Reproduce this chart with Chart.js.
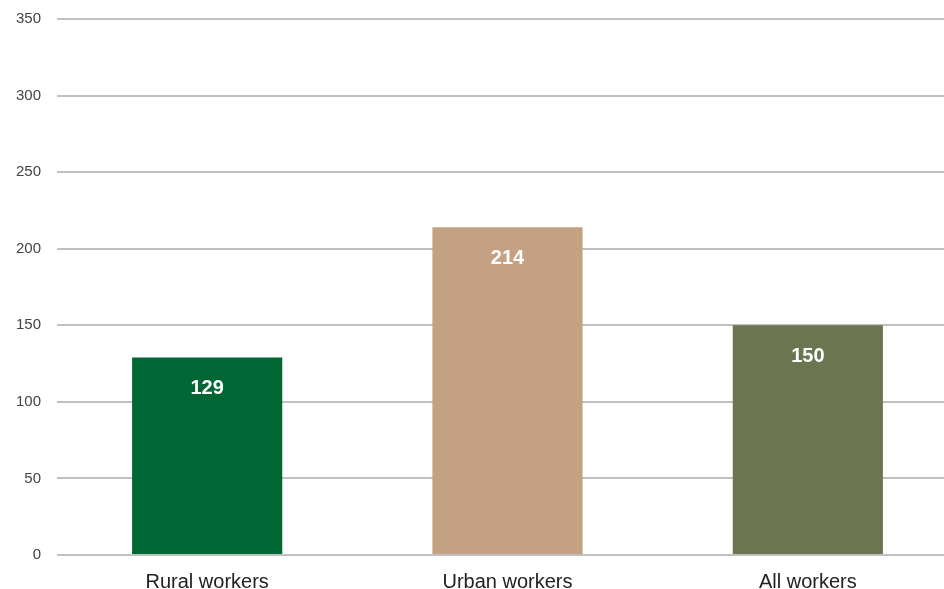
<!DOCTYPE html>
<html>
<head>
<meta charset="utf-8">
<script src="https://cdn.jsdelivr.net/npm/chart.js@4.4.1/dist/chart.umd.min.js"></script>
<style>
  html, body { margin: 0; padding: 0; background: #fff; overflow: hidden; }
  #wrap { width: 960px; height: 595px; margin-top: -6px; }
</style>
</head>
<body>
<div id="wrap"><canvas id="c" width="960" height="595"></canvas></div>
<script>
const categories = ["Rural workers", "Urban workers", "All workers"];
const values = [129, 214, 150];
const barColors = ["#006633", "#C4A183", "#6B7550"];
const yTicks = [0, 50, 100, 150, 200, 250, 300, 350];

// Value labels printed in white inside the top of each bar
const insideLabels = {
  id: "insideLabels",
  afterDatasetsDraw(chart) {
    const ctx = chart.ctx;
    const meta = chart.getDatasetMeta(0);
    ctx.save();
    ctx.fillStyle = "#ffffff";
    ctx.font = "bold 20px 'Liberation Sans', Arial, sans-serif";
    ctx.textAlign = "center";
    ctx.textBaseline = "middle";
    meta.data.forEach((bar, i) => {
      ctx.fillText(String(values[i]), bar.x, bar.y + 31);
    });
    ctx.restore();
  }
};

new Chart(document.getElementById("c"), {
  type: "bar",
  data: {
    labels: categories,
    datasets: [{
      data: values,
      backgroundColor: barColors,
      borderWidth: 0,
      barPercentage: 0.5,
      categoryPercentage: 1.0
    }]
  },
  options: {
    responsive: false,
    animation: false,
    devicePixelRatio: 1,
    layout: { padding: { top: 0, right: 2, left: 0, bottom: 0 } },
    plugins: { legend: { display: false }, tooltip: { enabled: false } },
    scales: {
      x: {
        grid: { display: false },
        border: { display: false },
        ticks: {
          color: "#222222",
          font: { family: "'Liberation Sans', Arial, sans-serif", size: 20 },
          padding: 7
        },
        afterFit(scale) { scale.height = 34; }
      },
      y: {
        min: 0,
        max: 350,
        afterBuildTicks(scale) { scale.ticks = yTicks.map(v => ({ value: v })); },
        grid: { color: "#C0C0C0", lineWidth: 2, drawTicks: false },
        border: { display: false },
        ticks: {
          color: "#444444",
          font: { family: "'Liberation Sans', Arial, sans-serif", size: 15 },
          padding: 16
        },
        afterFit(scale) { scale.width = 57; }
      }
    }
  },
  plugins: [insideLabels]
});
</script>
</body>
</html>
